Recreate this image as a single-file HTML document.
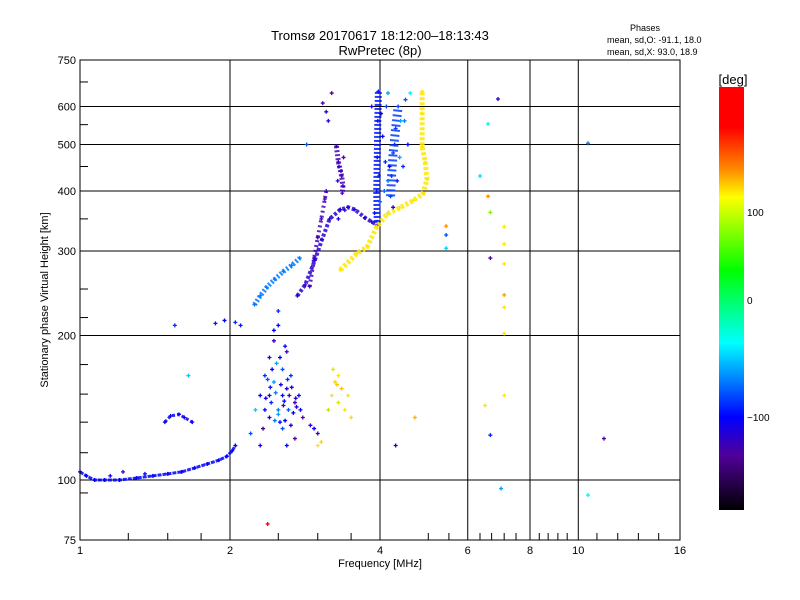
<!DOCTYPE html>
<html><head><meta charset="utf-8"><title>Ionogram</title>
<style>
html,body{margin:0;padding:0;background:#fff;}
svg{display:block;font-family:"Liberation Sans",sans-serif;}
</style></head>
<body>
<svg id="chart" width="800" height="600" viewBox="0 0 800 600" xmlns="http://www.w3.org/2000/svg">
<defs>
<linearGradient id="cbgrad" x1="0" y1="0" x2="0" y2="1">
<stop offset="0" stop-color="#ff0000"/>
<stop offset="0.095" stop-color="#ff0000"/>
<stop offset="0.196" stop-color="#ff8c00"/>
<stop offset="0.260" stop-color="#ffff00"/>
<stop offset="0.433" stop-color="#00ff00"/>
<stop offset="0.605" stop-color="#00ffff"/>
<stop offset="0.780" stop-color="#0000ff"/>
<stop offset="0.870" stop-color="#50009a"/>
<stop offset="1" stop-color="#000000"/>
</linearGradient>
</defs>
<rect x="0" y="0" width="800" height="600" fill="#fff"/>
<text x="380" y="40" font-size="13" text-anchor="middle">Tromsø 20170617 18:12:00–18:13:43</text>
<text x="380" y="55" font-size="13" text-anchor="middle">RwPretec (8p)</text>
<text x="645" y="31" font-size="9" text-anchor="middle">Phases</text>
<text x="607" y="43" font-size="9">mean, sd,O: -91.1, 18.0</text>
<text x="607" y="55" font-size="9">mean, sd,X:  93.0, 18.9</text>
<g id="grid"></g>
<g id="marks"></g>
<rect x="80" y="60" width="600" height="480" fill="none" stroke="#000" stroke-width="1"/>
<g id="axes"></g>
<text x="380" y="567" font-size="11" text-anchor="middle">Frequency [MHz]</text>
<text x="48" y="300" font-size="11" text-anchor="middle" transform="rotate(-90 48 300)">Stationary phase Virtual Height [km]</text>
<g>
<rect x="719" y="87" width="25" height="423" fill="url(#cbgrad)"/>
<text x="733" y="84" font-size="13" text-anchor="middle">[deg]</text>
<text x="747" y="216" font-size="10">100</text>
<text x="747" y="304" font-size="10">0</text>
<text x="747" y="421" font-size="10">−100</text>
</g>
</svg>
<script>
// ---- data ----
var xTicks = [1, 2, 4, 6, 8, 10, 16];
var xTickLabels = ["1", "2", "4", "6", "8", "10", "16"];
var xMinorTicks = [1.25, 1.5, 1.75, 2.5, 3, 3.5, 5, 5.5, 6.35, 6.7, 7.1, 7.5, 8.35, 8.7, 9.1, 9.5, 10.9, 12, 13.2, 14.5];
var yTicks = [75, 100, 200, 300, 400, 500, 600, 750];
var yTickLabels = ["75", "100", "200", "300", "400", "500", "600", "750"];
var yMinorTicks = [94, 114, 132, 151, 174, 218, 250, 350, 450, 550, 675];

// traces: frequency (MHz), height (km), phase (deg)
var traceE_f = [1.0, 1.03, 1.07, 1.12, 1.2, 1.3, 1.4, 1.5, 1.6, 1.7, 1.8, 1.9, 1.97, 2.02, 2.05];
var traceE_h = [104, 102, 100, 100, 100, 101, 102, 103, 104, 106, 108, 110, 112, 115, 118];
var traceE_p = -100;
var traceE2_f = [1.48, 1.52, 1.58, 1.62, 1.68];
var traceE2_h = [132, 136, 137, 135, 132];
var traceE2_p = -105;
var traceF1_f = [2.24, 2.3, 2.37, 2.46, 2.56, 2.66, 2.76];
var traceF1_h = [232, 242, 252, 262, 272, 280, 290];
var traceF1_p = -70;
var traceF2_f = [2.73, 2.83, 2.96, 3.06, 3.17, 3.33, 3.45, 3.56, 3.73, 3.85, 3.95];
var traceF2_h = [242, 255, 287, 317, 350, 366, 370, 366, 352, 345, 340];
var traceF2_p = -115;
var traceF2b_f = [2.89, 2.95, 3.0, 3.05, 3.1, 3.12];
var traceF2b_h = [253, 290, 320, 350, 385, 400];
var traceF2b_p = -125;
var traceF3_f = [3.27, 3.3, 3.35, 3.37, 3.36];
var traceF3_h = [496, 460, 430, 410, 396];
var traceF3_p = -125;
var traceCol1_f = [3.95, 3.94, 3.95, 3.96, 3.97];
var traceCol1_h = [345, 400, 470, 560, 645];
var traceCol1_p = -95;
var traceCol2_f = [4.2, 4.22, 4.25, 4.3, 4.35];
var traceCol2_h = [390, 430, 480, 540, 600];
var traceCol2_p = -85;
var traceX_f = [3.33, 3.6, 3.77, 3.94, 4.14, 4.38, 4.66, 4.88, 4.97, 4.93, 4.86, 4.86, 4.86];
var traceX_h = [274, 297, 306, 337, 359, 369, 382, 395, 423, 459, 495, 581, 645];
var traceX_p = 100;

// scattered echoes
var scatF = [2.3, 2.35, 2.4, 2.45, 2.5, 2.55, 2.6, 2.5, 2.4, 2.7, 2.75, 2.65, 2.55, 2.45, 2.35, 2.6, 2.5, 2.45, 2.8, 2.9, 2.95, 3.0, 2.2, 2.25, 2.3, 2.6, 2.7, 2.55, 2.65, 2.4, 2.48, 2.58, 2.33, 2.52, 2.62,
  2.42, 2.47, 2.53, 2.57, 2.63, 2.68, 2.72, 2.38, 2.43, 2.5, 2.56, 2.61, 2.66, 2.52, 2.46, 2.58, 2.36, 2.41, 2.71, 2.77,
  3.2, 3.25, 3.3, 3.35, 3.4, 3.5, 3.15, 3.3, 3.0, 3.05, 3.22, 3.28, 3.45,
  1.55, 1.65, 1.87, 1.95, 2.05, 2.1, 1.35, 1.15, 1.22,
  3.07, 3.12, 3.15, 3.2, 2.85, 3.3, 3.4,
  3.9, 4.0, 4.1, 4.05, 4.15, 4.4, 4.5, 4.55, 4.45, 3.85, 4.6, 4.08, 4.18, 4.28, 4.38, 4.12, 4.02, 4.33, 4.48, 4.25, 4.15, 3.98,
  3.34, 3.38, 3.29, 3.31,
  6.9, 6.59, 10.46, 6.35, 6.59, 6.66, 5.43, 5.43, 5.43, 7.1, 7.1, 6.66, 7.1, 7.1, 7.1, 7.1, 7.1, 6.5, 6.66, 11.26, 7.0, 10.46, 2.38, 4.7, 4.3];
var scatH = [150, 165, 180, 195, 210, 170, 155, 140, 135, 145, 150, 130, 128, 160, 140, 185, 225, 205, 135, 130, 128, 125, 125, 140, 118, 118, 122, 150, 165, 150, 175, 190, 128, 132, 140,
  145, 152, 158, 146, 150, 138, 142, 162, 170, 137, 143, 162, 156, 180, 133, 133, 148, 156, 148, 140,
  150, 160, 145, 155, 140, 135, 140, 165, 118, 120, 170, 158, 150,
  210, 165, 212, 215, 213, 210, 103, 102, 104,
  610, 585, 560, 640, 500, 350, 365,
  360, 380, 460, 520, 420, 560, 620, 500, 450, 600, 640, 400, 450, 500, 470, 600, 580, 420, 560, 370, 640, 430,
  440, 470, 420, 450,
  622, 552, 503, 430, 390, 361, 338, 324, 304, 337, 310, 290, 282, 243, 229, 202, 150, 143, 124, 122, 96, 93, 81, 135, 118];
var scatP = [-100, -90, -110, -120, -100, -80, -110, -70, -100, -120, -100, -110, -80, -60, -100, -120, -90, -100, -130, -120, -100, -120, -80, -50, -110, -100, -130, -100, -90, -115, -60, -100, -140, -100, -80,
  -90, -70, -110, -100, -120, -100, -110, -80, -100, -60, -120, -90, -110, -100, -70, -100, -110, -95, -120, -100,
  100, 110, 90, 120, 100, 105, 80, 100, 100, 110, 95, 115, 100,
  -90, -50, -95, -100, -90, -95, -100, -110, -120,
  -125, -120, -110, -130, -80, -110, -120,
  -95, -80, -90, -100, -70, -60, -80, -100, -90, -110, -40, -75, -100, -90, -60, -85, -105, -95, -70, -110, -60, -90,
  -125, -130, -120, -115,
  -110, -40, -70, -45, 150, 70, 150, -80, -50, 100, 100, -130, 100, 140, 100, 100, 100, 100, -90, -130, -60, -40, 190, 130, -110];

// ---- scales ----
var X0 = 80, X1 = 680, Y0 = 60, Y1 = 540;
function xs(f) { return X0 + (X1 - X0) * Math.log(f / 1) / Math.log(16); }
function ys(h) { return Y1 - (Y1 - Y0) * Math.log(h / 75) / Math.log(10); }
var colorStops = [[190, [255, 0, 0]], [150, [255, 140, 0]], [100, [255, 230, 0]], [35, [0, 255, 0]], [-37, [0, 255, 255]], [-100, [0, 0, 255]], [-130, [80, 0, 170]], [-180, [0, 0, 0]]];
function phaseColor(p) {
  if (p >= colorStops[0][0]) return "rgb(255,0,0)";
  for (var i = 0; i < colorStops.length - 1; i++) {
    var a = colorStops[i], b = colorStops[i + 1];
    if (p <= a[0] && p >= b[0]) {
      var t = (a[0] - p) / (a[0] - b[0]);
      var c = [0, 1, 2].map(function (k) { return Math.round(a[1][k] + (b[1][k] - a[1][k]) * t); });
      return "rgb(" + c.join(",") + ")";
    }
  }
  return "rgb(0,0,0)";
}
var NS = "http://www.w3.org/2000/svg";
function mk(tag, attrs, parent) {
  var e = document.createElementNS(NS, tag);
  for (var k in attrs) e.setAttribute(k, attrs[k]);
  parent.appendChild(e);
  return e;
}
var grid = document.getElementById("grid");
var axes = document.getElementById("axes");
var marks = document.getElementById("marks");

xTicks.forEach(function (f, i) {
  var x = xs(f);
  if (f > 1 && f < 16) {
    var g = mk("line", { x1: x, y1: Y0, x2: x, y2: Y1, stroke: "#000", "stroke-width": 1 }, grid);
    
    
  }
  var t = mk("text", { x: x, y: 554, "font-size": 11, "text-anchor": "middle" }, axes);
  t.textContent = xTickLabels[i];
  
  
});
xMinorTicks.forEach(function (f) {
  var x = xs(f);
  var m = mk("line", { x1: x, y1: Y1, x2: x, y2: Y1 - 7, stroke: "#000", "stroke-width": 1 }, axes);
  
  
});
yTicks.forEach(function (h, i) {
  var y = ys(h);
  if (h > 75 && h < 750) {
    var g = mk("line", { x1: X0, y1: y, x2: X1, y2: y, stroke: "#000", "stroke-width": 1 }, grid);
    
    
  }
  var t = mk("text", { x: 76, y: y + 4, "font-size": 11, "text-anchor": "end" }, axes);
  t.textContent = yTickLabels[i];
  
  
});
yMinorTicks.forEach(function (h) {
  var y = ys(h);
  var m = mk("line", { x1: X0, y1: y, x2: X0 + 8, y2: y, stroke: "#000", "stroke-width": 1 }, axes);
  
  
});

function cross(f, h, p, name) {
  var x = xs(f), y = ys(h), c = phaseColor(p);
  var g = mk("path", { d: "M" + (x - 2) + " " + y + "H" + (x + 2) + "M" + x + " " + (y - 2) + "V" + (y + 2), stroke: c, "stroke-width": 1.3, fill: "none" }, marks);
  
  
}
function trace(fs, hs, p, name, width, dash) {
  var pts = fs.map(function (f, i) { return xs(f) + "," + ys(hs[i]); }).join(" ");
  var pl = mk("polyline", { points: pts, fill: "none", stroke: phaseColor(p), "stroke-width": width, "stroke-linejoin": "round", "stroke-dasharray": dash, opacity: 0.85 }, marks);
  
  
  fs.forEach(function (f, i) { cross(f, hs[i], p, name + "-point"); });
}
trace(traceE_f, traceE_h, traceE_p, "e-layer-trace", 3, "4 1");
trace(traceE2_f, traceE2_h, traceE2_p, "e-upper-trace", 3, "3 2");
trace(traceF1_f, traceF1_h, traceF1_p, "f1-trace", 5, "2 2");
trace(traceF2b_f, traceF2b_h, traceF2b_p, "f2-lower-branch", 4, "2 3");
trace(traceF2_f, traceF2_h, traceF2_p, "f2-o-trace", 4, "3 2");
trace(traceF3_f, traceF3_h, traceF3_p, "f3-column", 5, "2 2");
trace(traceCol1_f, traceCol1_h, traceCol1_p, "o-cusp-column", 7, "2 2");
trace(traceCol2_f, traceCol2_h, traceCol2_p, "o-spread-column", 9, "2 3");
trace(traceX_f, traceX_h, traceX_p, "x-mode-trace", 5, "3 2");
scatF.forEach(function (f, i) { cross(f, scatH[i], scatP[i], "scatter-echo"); });
</script>
</body></html>
